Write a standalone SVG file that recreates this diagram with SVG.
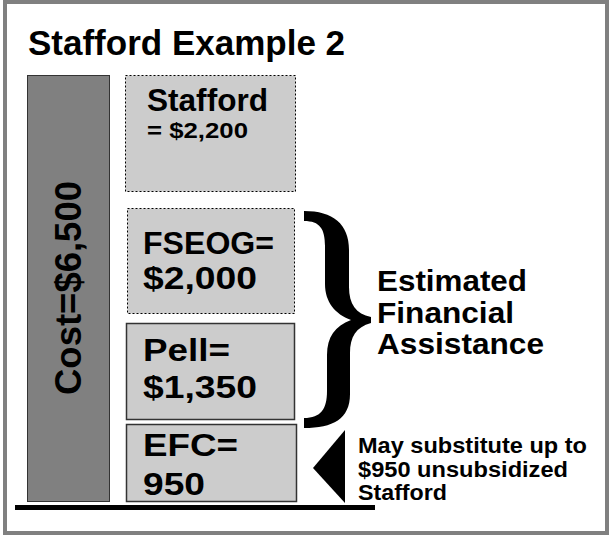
<svg xmlns="http://www.w3.org/2000/svg" width="610" height="535" viewBox="0 0 610 535">
<style>
text { font-family: "Liberation Sans", Arial, sans-serif; font-weight: bold; fill: #000; }
.box { fill: #cccccc; }
.dotted { stroke: #000; stroke-width: 1; stroke-dasharray: 2 2; }
.solid { stroke: #333; stroke-width: 1.5; }
.lbl { font-size: 32px; }
</style>
<rect x="0" y="0" width="610" height="535" fill="#ffffff"/>
<rect x="5" y="2" width="602" height="531" fill="#ffffff" stroke="#808080" stroke-width="4"/>
<g id="title">
<text x="28" y="55" font-size="35">Stafford Example 2</text>
</g>
<g id="cost">
<rect x="27.5" y="75.5" width="82" height="426" fill="#808080" stroke="#333" stroke-width="1"/>
<text transform="translate(81,288) rotate(-90)" font-size="36" text-anchor="middle" textLength="214" lengthAdjust="spacingAndGlyphs">Cost=$6,500</text>
</g>
<g id="stafford">
<rect class="box dotted" x="125.5" y="75.5" width="170" height="116"/>
<text x="147" y="111" font-size="31" textLength="121" lengthAdjust="spacingAndGlyphs">Stafford</text>
<text x="147" y="138" font-size="22" textLength="101" lengthAdjust="spacingAndGlyphs">= $2,200</text>
</g>
<g id="fseog">
<rect class="box dotted" x="127.5" y="208.5" width="167" height="105"/>
<text class="lbl" x="143" y="254" textLength="131" lengthAdjust="spacingAndGlyphs">FSEOG=</text>
<text class="lbl" x="143" y="289" textLength="114" lengthAdjust="spacingAndGlyphs">$2,000</text>
</g>
<g id="pell">
<rect class="box solid" x="126.5" y="323.5" width="168" height="96"/>
<text class="lbl" x="143" y="361" textLength="87" lengthAdjust="spacingAndGlyphs">Pell=</text>
<text class="lbl" x="143" y="398" textLength="114" lengthAdjust="spacingAndGlyphs">$1,350</text>
</g>
<g id="efc">
<rect class="box solid" x="126.5" y="424.5" width="170" height="77"/>
<text class="lbl" x="143" y="456" textLength="95" lengthAdjust="spacingAndGlyphs">EFC=</text>
<text class="lbl" x="143" y="495" textLength="62" lengthAdjust="spacingAndGlyphs">950</text>
</g>
<g id="connectors">
<rect x="15" y="505" width="360" height="5" fill="#000"/>
<path d="M304,211 C333,211 349,224 349,250 L349,287 C349,304 356,314 371,317 L371,323 C356,327 350,337 350,353 L350,394 C350,419 333,428 304,428 L304,418 C321,418 327,409 327,391 L327,355 C327,337 335,326 351,320 C335,314 325,302 325,284 L325,246 C325,229 320,221 304,221 Z" fill="#000"/>
<polygon points="313,468 345,430 345,503" fill="#000"/>
</g>
<g id="assistance">
<text x="377" y="291" font-size="30" textLength="150" lengthAdjust="spacingAndGlyphs">Estimated</text>
<text x="377" y="323" font-size="30" textLength="137" lengthAdjust="spacingAndGlyphs">Financial</text>
<text x="377" y="354" font-size="30" textLength="167" lengthAdjust="spacingAndGlyphs">Assistance</text>
</g>
<g id="substitute">
<text x="358" y="453" font-size="22" textLength="229" lengthAdjust="spacingAndGlyphs">May substitute up to</text>
<text x="358" y="477" font-size="22" textLength="210" lengthAdjust="spacingAndGlyphs">$950 unsubsidized</text>
<text x="358" y="500" font-size="22" textLength="89" lengthAdjust="spacingAndGlyphs">Stafford</text>
</g>
</svg>
